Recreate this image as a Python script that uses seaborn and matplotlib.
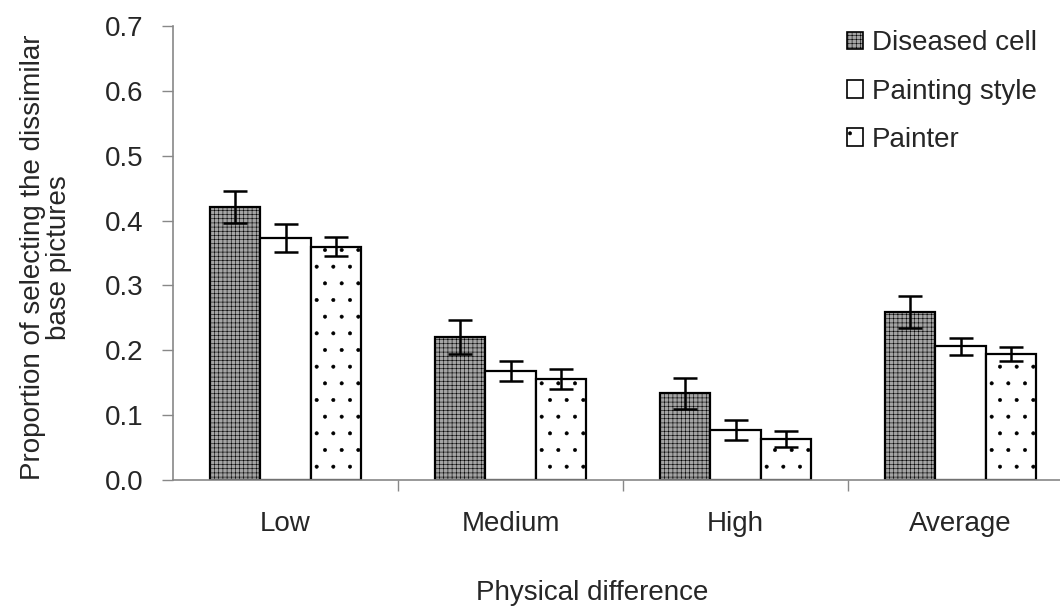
import numpy as np
import pandas as pd
import matplotlib
matplotlib.use("Agg")
import matplotlib.pyplot as plt
import seaborn as sns
from matplotlib.patches import Patch

categories = ["Low", "Medium", "High", "Average"]
groups = ["Diseased cell", "Painting style", "Painter"]
diseased = [0.421, 0.221, 0.134, 0.259]
painting_style = [0.373, 0.168, 0.077, 0.206]
painter = [0.360, 0.156, 0.063, 0.194]
err_diseased = [0.024, 0.026, 0.024, 0.025]
err_painting_style = [0.021, 0.015, 0.015, 0.013]
err_painter = [0.014, 0.015, 0.012, 0.011]

values = [diseased, painting_style, painter]
errors = [err_diseased, err_painting_style, err_painter]

df = pd.DataFrame({
    "difference": np.repeat([categories], len(groups), axis=0).ravel(),
    "group": np.repeat(groups, len(categories)),
    "value": np.concatenate(values),
    "err": np.concatenate(errors),
})

sns.set_theme(style="white")
plt.rcParams["font.family"] = ["Liberation Sans", "DejaVu Sans"]
plt.rcParams["hatch.linewidth"] = 0.4

FS = 20

fig = plt.figure(figsize=(10.6, 6.09), dpi=100)
ax = fig.add_axes([173 / 1060, 129 / 609, 900 / 1060, 454 / 609])

faces = {"Diseased cell": "#a4a4a4", "Painting style": "white", "Painter": "white"}
hatches = {"Diseased cell": "++++", "Painting style": "", "Painter": "."}

sns.barplot(data=df, x="difference", y="value", hue="group",
            order=categories, hue_order=groups, errorbar=None,
            width=0.667, gap=0, ax=ax, legend=False,
            palette=[faces[g] for g in groups])

for container, g, err in zip(ax.containers, groups, errors):
    xs = []
    for bar in container:
        bar.set_facecolor(faces[g])
        bar.set_edgecolor("black")
        bar.set_linewidth(1.6)
        bar.set_hatch(hatches[g])
        xs.append(bar.get_x() + bar.get_width() / 2)
    hs = [bar.get_height() for bar in container]
    ax.errorbar(xs, hs, yerr=err, fmt="none", ecolor="black",
                elinewidth=1.8, capsize=8.5, capthick=1.8, zorder=5)

ax.set_ylim(0, 0.7)
ax.set_xlim(-0.5, 3.5)
ax.set_yticks(np.arange(0, 0.71, 0.1))
ax.set_yticklabels([f"{v:.1f}" for v in np.arange(0, 0.71, 0.1)])
ax.set_xticks([0.5, 1.5, 2.5], minor=True)
ax.tick_params(axis="x", which="major", length=0, pad=22, labelsize=FS)
ax.tick_params(axis="x", which="minor", length=8, width=1, color="#888888",
               direction="out", bottom=True)
ax.tick_params(axis="y", length=8, width=1, color="#888888", direction="out",
               left=True, pad=13, labelsize=FS)

for side in ["top", "right"]:
    ax.spines[side].set_visible(False)
for side in ["left", "bottom"]:
    ax.spines[side].set_color("#888888")
    ax.spines[side].set_linewidth(1.2)

ax.set_xlabel("Physical difference", fontsize=FS)
ax.xaxis.set_label_coords(0.466, -0.22)
ax.set_ylabel("Proportion of selecting the dissimilar\nbase pictures", fontsize=FS,
              linespacing=1.0)
ax.yaxis.set_label_coords(-0.112, 0.49)

handles = [Patch(facecolor=faces[g], edgecolor="black", hatch=hatches[g], linewidth=1.2)
           for g in groups]
ax.legend(handles, groups, loc="upper left", bbox_to_anchor=(0.736, 1.015),
          frameon=False, fontsize=FS, handlelength=0.6, handleheight=0.6,
          handletextpad=0.3, labelspacing=0.8, borderaxespad=0)

fig.savefig("out.png", dpi=100)
